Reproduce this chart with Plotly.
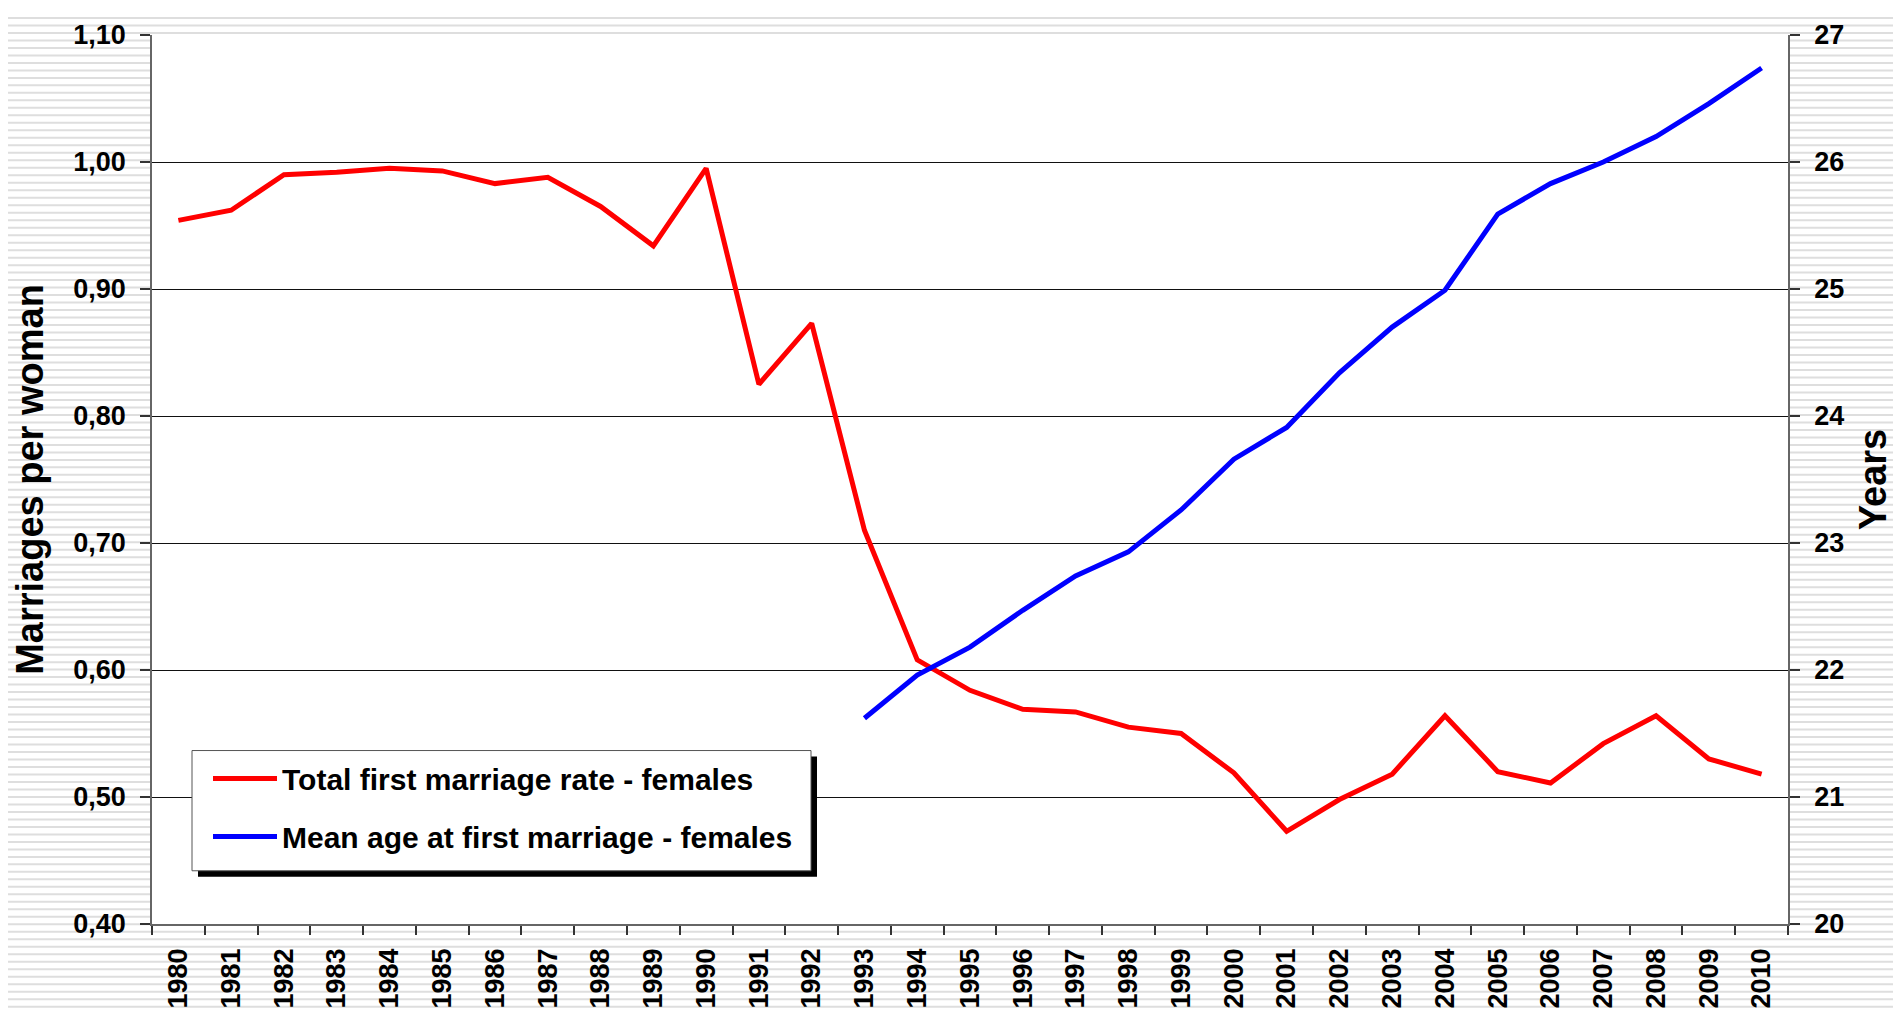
import plotly.graph_objects as go

years = [str(y) for y in range(1980, 2011)]
first_marriage_rate = [0.954, 0.962, 0.990, 0.992, 0.995, 0.993, 0.983, 0.988, 0.965, 0.934,
                       0.995, 0.825, 0.873, 0.710, 0.608, 0.584, 0.569, 0.567, 0.555, 0.550,
                       0.519, 0.473, 0.498, 0.518, 0.564, 0.520, 0.511, 0.542, 0.564, 0.530,
                       0.518]
age_years = [str(y) for y in range(1993, 2011)]
mean_age = [21.62, 21.96, 22.18, 22.47, 22.74, 22.93, 23.26, 23.66, 23.91, 24.34,
            24.70, 24.99, 25.59, 25.83, 26.00, 26.20, 26.46, 26.74]
left_ticks = [0.40, 0.50, 0.60, 0.70, 0.80, 0.90, 1.00, 1.10]
left_labels = ["0,40", "0,50", "0,60", "0,70", "0,80", "0,90", "1,00", "1,10"]
right_ticks = [20, 21, 22, 23, 24, 25, 26, 27]

FONT = "Liberation Sans, Arial, sans-serif"
W, H = 1901, 1013
ML, MR, MT, MB = 144, 121, 22, 89
PW, PH = W - ML - MR, H - MT - MB


def px_to_paper_x(px):
    return (px - ML) / PW


def px_to_paper_y(py):
    return (H - MB - py) / PH


fig = go.Figure()
fig.add_trace(go.Scatter(
    x=years, y=first_marriage_rate, mode="lines",
    name="Total first marriage rate - females",
    line=dict(color="#ff0000", width=5), legendgroup="a",
    xaxis="x", yaxis="y"))
fig.add_trace(go.Scatter(
    x=age_years, y=mean_age, mode="lines",
    name="Mean age at first marriage - females",
    line=dict(color="#0000ff", width=5), legendgroup="b",
    xaxis="x", yaxis="y2"))

# striped background
segs = []
py = 4.7
while py < H:
    yy = px_to_paper_y(py)
    segs.append(f"M{px_to_paper_x(0):.5f},{yy:.5f} L{px_to_paper_x(W):.5f},{yy:.5f}")
    py += 7.6

# legend frame (box + drop shadow)
LX0, LX1, LY0, LY1 = 184, 803, 748, 870
shapes = [
    dict(type="path", xref="paper", yref="paper", path=" ".join(segs),
         line=dict(color="#dedede", width=2), layer="below"),
    dict(type="rect", xref="paper", yref="paper", x0=0, x1=1, y0=0, y1=1,
         fillcolor="white", line=dict(width=0), layer="below"),
    dict(type="rect", xref="paper", yref="paper",
         x0=px_to_paper_x(LX0 + 6), x1=px_to_paper_x(LX1 + 6),
         y0=px_to_paper_y(LY1 + 6), y1=px_to_paper_y(LY0 + 6),
         fillcolor="black", line=dict(width=0), layer="above"),
    dict(type="rect", xref="paper", yref="paper",
         x0=px_to_paper_x(LX0), x1=px_to_paper_x(LX1),
         y0=px_to_paper_y(LY1), y1=px_to_paper_y(LY0),
         fillcolor="white", line=dict(color="#555555", width=1), layer="above"),
]

fig.update_layout(
    width=W, height=H,
    margin=dict(l=ML, r=MR, t=MT, b=MB),
    paper_bgcolor="white", plot_bgcolor="white",
    font=dict(family=FONT, color="black"),
    shapes=shapes,
    showlegend=True,
    legend=dict(
        x=px_to_paper_x(200), y=px_to_paper_y(750), xanchor="left", yanchor="top",
        bgcolor="rgba(0,0,0,0)", borderwidth=0,
        font=dict(family=FONT, size=30, color="black", weight="bold"),
        tracegroupgap=16, itemwidth=64,
    ),
    xaxis=dict(
        type="category", categoryorder="array", categoryarray=years,
        range=[-0.5, len(years) - 0.5], tickson="boundaries",
        ticks="outside", ticklen=9, tickcolor="#333333", tickwidth=1.5,
        tickangle=-90, tickfont=dict(family=FONT, size=27, weight="bold"),
        showline=True, linecolor="#666666", linewidth=1.5,
        showgrid=False, zeroline=False, ticklabelstandoff=12,
    ),
    xaxis2=dict(
        overlaying="x", anchor="y", side="bottom",
        range=[-0.5, len(years) - 0.5],
        tickmode="array", tickvals=[i - 0.5 for i in range(len(years) + 1)],
        ticks="inside", ticklen=9, tickcolor="#333333", tickwidth=1.5,
        showticklabels=False, showgrid=False, zeroline=False, showline=False,
    ),
    yaxis=dict(
        range=[0.40, 1.10], tickmode="array", tickvals=left_ticks, ticktext=left_labels,
        ticks="outside", ticklen=10, tickcolor="#333333", tickwidth=1.5,
        tickfont=dict(family=FONT, size=27, weight="bold"),
        showgrid=True, gridcolor="#111111", gridwidth=1,
        showline=True, linecolor="#666666", linewidth=1.5, zeroline=False,
        title=dict(text="Marriages per woman", font=dict(family=FONT, size=38, weight="bold"),
                   standoff=18),
        ticklabelstandoff=9,
    ),
    yaxis2=dict(
        overlaying="y", side="right", anchor="x",
        range=[20, 27], tickmode="array", tickvals=right_ticks,
        ticks="outside", ticklen=10, tickcolor="#333333", tickwidth=1.5,
        tickfont=dict(family=FONT, size=27, weight="bold"),
        showgrid=False, showline=True, linecolor="#666666", linewidth=1.5, zeroline=False,
        title=dict(text="Years", font=dict(family=FONT, size=38, weight="bold"), standoff=16),
        ticklabelstandoff=9,
    ),
)

fig.write_html("out.html")
